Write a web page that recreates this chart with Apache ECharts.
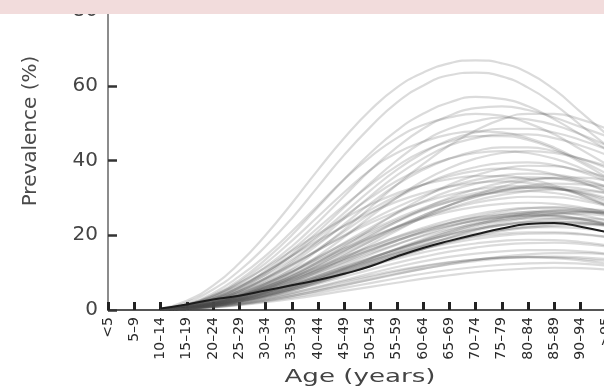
<!DOCTYPE html>
<html>
<head>
<meta charset="utf-8">
<script src="https://cdn.jsdelivr.net/npm/echarts@6/dist/echarts.min.js"></script>
<style>
  html, body { margin: 0; padding: 0; background: #ffffff; }
  #chart { width: 604px; height: 390px; }
</style>
</head>
<body>
<div id="chart"></div>
<script>
// Age groups on the x axis
const ageGroups = ['<5', '5–9', '10–14', '15–19', '20–24', '25–29', '30–34', '35–39',
  '40–44', '45–49', '50–54', '55–59', '60–64', '65–69', '70–74', '75–79',
  '80–84', '85–89', '90–94', '>95'];

// Prevalence (%) by age group, one row per country; values start at the 10–14 group
const upperGroup = [
  [0.3, 2.5, 6.5, 12.5, 20, 28.5, 37.5, 46, 53.5, 59.5, 63.5, 66, 66.8, 66, 63.5, 59, 53, 47],
  [0.2, 2, 5.5, 10.5, 17, 24.5, 33, 41.5, 49, 55.5, 60, 62.8, 63.5, 62.5, 59.5, 55, 49.5, 44],
  [0.2, 1.5, 4, 8, 13.5, 20, 27.5, 35, 42, 48, 52.5, 55.5, 57, 56.5, 54.5, 51, 47, 43],
  [0.1, 1.2, 3.5, 7, 11.5, 17, 23.5, 30.5, 37.5, 43.5, 48.5, 52, 54, 54.5, 53.5, 51.5, 49, 46.5],
  [0.2, 1.5, 4.5, 9, 14.5, 21, 28, 35, 41, 46, 49.5, 51.5, 52.5, 52, 50, 47, 43, 39],
  [0.1, 1, 3, 6, 10, 15, 21, 27.5, 34, 40, 45, 48.5, 50.5, 51.5, 51, 49.5, 47, 44],
  [0.1, 1, 2.8, 5.5, 9.5, 14.5, 20, 26, 32, 37.5, 42, 45.5, 47.5, 48.5, 48.5, 47.5, 45.5, 43],
  [0.2, 1.3, 3.8, 7.5, 12.5, 18.5, 25, 31.5, 37.5, 42, 45, 47, 47.8, 47.5, 46, 43.5, 40, 36.5],
  [0.1, 0.8, 2.5, 5, 8.5, 13, 18.5, 24.5, 30.5, 36, 40.5, 44, 46, 47, 47, 46, 44, 41.5],
  [0.1, 1, 3, 6, 10.5, 16, 22, 28, 33.5, 38.5, 42.5, 45, 46.5, 46.5, 45.5, 43, 39.5, 35.5],
  [0.1, 0.7, 2, 4, 7, 11, 16, 21.5, 27.5, 33.5, 39, 44, 48, 51, 52.5, 52.5, 51, 48.5]
];

const middleGroup = [
  [0.1, 0.9, 2.5, 5, 8.5, 12.5, 17.5, 23, 28.5, 33.5, 37.5, 40.5, 42.5, 43.5, 43.5, 42.5, 40.5, 38],
  [0.2, 1.2, 3.2, 6.2, 10, 14.5, 19.5, 25, 30, 34.5, 38, 40.5, 42, 42.5, 42, 40.5, 38, 35],
  [0.1, 0.6, 1.8, 3.8, 6.5, 10, 14.5, 19.5, 25, 30, 34.5, 38, 40.5, 42, 42.5, 42, 40.5, 38.5],
  [0.1, 0.8, 2.3, 4.6, 7.8, 11.8, 16.3, 21, 25.8, 30, 33.5, 36.3, 38.2, 39.3, 39.5, 38.8, 37, 34.5],
  [0.2, 1.1, 3, 5.8, 9.3, 13.5, 18, 22.5, 26.8, 30.5, 33.5, 35.8, 37.2, 37.8, 37.5, 36.3, 34.3, 31.5],
  [0.1, 0.6, 1.7, 3.5, 6, 9, 12.8, 17, 21.5, 26, 30, 33.5, 36, 37.8, 38.6, 38.5, 37.3, 35.5],
  [0.1, 0.9, 2.6, 5, 8.2, 12, 16, 20, 24, 27.5, 30.5, 33, 34.8, 36, 36.5, 36.2, 35, 33],
  [0.1, 0.7, 2, 4, 6.8, 10.2, 14, 18, 22, 25.8, 29, 31.8, 33.8, 35, 35.5, 35.2, 34, 32],
  [0.1, 0.5, 1.5, 3.2, 5.5, 8.5, 12, 15.8, 19.8, 23.6, 27, 30, 32.3, 34, 35, 35.2, 34.5, 33],
  [0.2, 1, 2.8, 5.3, 8.5, 12.2, 16, 19.8, 23.3, 26.3, 28.8, 30.8, 32.2, 33, 33.2, 32.6, 31.2, 29],
  [0.1, 0.6, 1.8, 3.7, 6.2, 9.3, 12.8, 16.5, 20.2, 23.6, 26.6, 29, 30.8, 32, 32.6, 32.5, 31.6, 30],
  [0.1, 0.8, 2.2, 4.3, 7, 10.2, 13.7, 17.3, 20.8, 24, 26.8, 29, 30.6, 31.5, 31.8, 31.3, 30, 28],
  [0.1, 0.5, 1.4, 2.9, 5, 7.7, 11, 14.6, 18.4, 22, 25.3, 28, 30.2, 31.8, 32.7, 33, 32.5, 31.3],
  [0.1, 0.7, 2, 3.9, 6.4, 9.4, 12.7, 16, 19.2, 22.2, 24.8, 27, 28.7, 29.8, 30.3, 30.2, 29.3, 27.8],
  [0.2, 1.3, 3.5, 6.5, 10.2, 14.4, 18.6, 22.5, 26, 29, 31.3, 33, 34, 34.4, 34, 32.8, 30.8, 28.2],
  [0.1, 0.6, 1.7, 3.4, 5.7, 8.5, 11.7, 15, 18.4, 21.6, 24.6, 27.2, 29.3, 30.8, 31.8, 32.2, 32, 31.2],
  [0.1, 0.9, 2.4, 4.6, 7.4, 10.7, 14.2, 17.8, 21.3, 24.5, 27.3, 29.6, 31.3, 32.4, 32.8, 32.5, 31.4, 29.6],
  [0.1, 0.4, 1.2, 2.6, 4.6, 7.2, 10.3, 13.8, 17.5, 21.2, 24.8, 28, 30.8, 33, 34.6, 35.4, 35.4, 34.6],
  [0.1, 0.7, 2, 3.8, 6.2, 9, 12.2, 15.6, 19, 22.3, 25.3, 28, 30.3, 32, 33.2, 33.8, 33.6, 32.8],
  [0.2, 1.4, 3.8, 7.2, 11.3, 15.8, 20.3, 24.5, 28.2, 31.2, 33.5, 35, 35.8, 35.8, 35, 33.3, 30.8, 27.8]
];

const denseGroup = [
  [0.1, 0.6, 1.6, 3.1, 5, 7.3, 10, 12.8, 15.7, 18.5, 21, 23.2, 25, 26.3, 27.2, 27.5, 27.2, 26.2],
  [0.1, 0.5, 1.4, 2.8, 4.6, 6.8, 9.3, 12, 14.8, 17.5, 20, 22.2, 24, 25.4, 26.3, 26.7, 26.5, 25.7],
  [0.1, 0.7, 1.9, 3.6, 5.7, 8.2, 10.9, 13.7, 16.4, 19, 21.3, 23.2, 24.7, 25.7, 26.2, 26.1, 25.4, 24],
  [0.1, 0.5, 1.3, 2.5, 4.1, 6.1, 8.4, 11, 13.7, 16.4, 19, 21.3, 23.3, 24.8, 25.9, 26.4, 26.4, 25.8],
  [0.1, 0.6, 1.7, 3.2, 5.2, 7.5, 10, 12.6, 15.2, 17.6, 19.8, 21.6, 23, 24, 24.5, 24.5, 23.9, 22.8],
  [0.1, 0.4, 1.1, 2.2, 3.7, 5.6, 7.8, 10.3, 12.9, 15.5, 18, 20.3, 22.3, 23.9, 25, 25.6, 25.7, 25.2],
  [0.1, 0.5, 1.5, 2.9, 4.7, 6.8, 9.1, 11.5, 13.9, 16.2, 18.3, 20.1, 21.6, 22.7, 23.4, 23.6, 23.3, 22.5],
  [0.1, 0.6, 1.7, 3.3, 5.4, 7.9, 10.6, 13.4, 16.1, 18.6, 20.8, 22.6, 24, 24.9, 25.3, 25.1, 24.3, 22.9],
  [0.1, 0.4, 1.2, 2.4, 4, 6, 8.3, 10.8, 13.4, 16, 18.5, 20.8, 22.8, 24.5, 25.8, 26.6, 26.9, 26.7],
  [0.1, 0.5, 1.4, 2.7, 4.4, 6.4, 8.6, 10.9, 13.2, 15.4, 17.4, 19.1, 20.5, 21.5, 22.1, 22.2, 21.8, 20.9],
  [0.1, 0.7, 2, 3.8, 6.1, 8.7, 11.5, 14.3, 17, 19.5, 21.6, 23.3, 24.6, 25.4, 25.7, 25.4, 24.5, 23],
  [0.1, 0.4, 1.2, 2.4, 3.9, 5.8, 7.9, 10.2, 12.6, 15, 17.3, 19.4, 21.2, 22.7, 23.8, 24.4, 24.5, 24.1],
  [0.1, 0.6, 1.6, 3, 4.8, 6.9, 9.2, 11.6, 14, 16.3, 18.4, 20.2, 21.7, 22.8, 23.5, 23.7, 23.4, 22.6],
  [0.1, 0.3, 1, 2, 3.4, 5.2, 7.3, 9.6, 12.1, 14.6, 17.1, 19.4, 21.5, 23.3, 24.7, 25.7, 26.2, 26.2],
  [0.1, 0.5, 1.5, 2.9, 4.6, 6.6, 8.8, 11, 13.1, 15.1, 16.9, 18.4, 19.6, 20.4, 20.8, 20.8, 20.4, 19.6],
  [0.1, 0.7, 1.9, 3.6, 5.8, 8.4, 11.2, 14.1, 16.9, 19.6, 22, 24, 25.6, 26.7, 27.3, 27.3, 26.7, 25.4],
  [0.1, 0.4, 1.1, 2.2, 3.6, 5.3, 7.3, 9.5, 11.8, 14.1, 16.3, 18.3, 20, 21.4, 22.4, 23, 23.2, 22.9],
  [0.1, 0.5, 1.4, 2.7, 4.3, 6.2, 8.3, 10.4, 12.5, 14.5, 16.3, 17.8, 19, 19.9, 20.4, 20.5, 20.2, 19.5],
  [0.1, 0.6, 1.8, 3.4, 5.5, 7.9, 10.6, 13.3, 16, 18.5, 20.7, 22.5, 23.9, 24.8, 25.2, 25.1, 24.4, 23.2],
  [0.1, 0.4, 1.2, 2.3, 3.8, 5.6, 7.6, 9.8, 12, 14.2, 16.3, 18.2, 19.8, 21.1, 22, 22.6, 22.8, 22.6],
  [0.2, 0.9, 2.4, 4.5, 7.1, 10.1, 13.3, 16.5, 19.5, 22.2, 24.5, 26.3, 27.6, 28.4, 28.7, 28.4, 27.5, 26],
  [0.1, 0.5, 1.4, 2.7, 4.4, 6.4, 8.7, 11.2, 13.8, 16.3, 18.7, 20.9, 22.8, 24.3, 25.4, 26, 26.2, 25.9]
];

const lowGroup = [
  [0.1, 0.3, 0.9, 1.8, 3, 4.5, 6.2, 8, 9.8, 11.5, 13, 14.2, 15.1, 15.7, 16, 16, 15.7, 15.1],
  [0.1, 0.4, 1, 2, 3.2, 4.6, 6.1, 7.7, 9.2, 10.6, 11.8, 12.8, 13.5, 14, 14.2, 14.1, 13.7, 13.1],
  [0.1, 0.3, 0.8, 1.6, 2.6, 3.8, 5.2, 6.7, 8.2, 9.7, 11, 12.2, 13.1, 13.8, 14.2, 14.3, 14.1, 13.6],
  [0.1, 0.3, 0.7, 1.4, 2.3, 3.4, 4.6, 5.9, 7.2, 8.5, 9.7, 10.7, 11.5, 12.1, 12.5, 12.6, 12.4, 11.9],
  [0.1, 0.4, 1.1, 2.2, 3.6, 5.2, 7, 8.9, 10.8, 12.6, 14.2, 15.6, 16.7, 17.5, 17.9, 18, 17.7, 17],
  [0.1, 0.3, 0.9, 1.7, 2.8, 4.1, 5.6, 7.2, 8.8, 10.3, 11.6, 12.7, 13.5, 14, 14.1, 13.9, 13.3, 12.4],
  [0.1, 0.4, 1.2, 2.4, 3.9, 5.7, 7.7, 9.8, 11.8, 13.7, 15.4, 16.8, 17.8, 18.5, 18.8, 18.7, 18.2, 17.3],
  [0.1, 0.3, 0.8, 1.5, 2.5, 3.7, 5.1, 6.6, 8.1, 9.6, 11, 12.3, 13.4, 14.3, 14.9, 15.2, 15.2, 14.9],
  [0.1, 0.3, 0.7, 1.3, 2.1, 3, 4, 5.1, 6.2, 7.3, 8.4, 9.3, 10.1, 10.7, 11.1, 11.3, 11.2, 10.8]
];

// Global average curve
const meanLine = [0.4, 1.5, 2.8, 3.8, 5.2, 6.6, 8.0, 9.7, 11.7, 14.3, 16.6, 18.5, 20.2, 21.8, 23.0, 23.3, 22.3, 20.8];

const yTickValues = [0, 20, 40, 60, 80];

// Rows begin at the third age group; the two youngest groups have no value
const pad = (row) => [null, null].concat(row);

const countryRows = [].concat(upperGroup, middleGroup, denseGroup, lowGroup);

const series = countryRows.map((row, i) => ({
  name: 'country' + i,
  type: 'line',
  data: pad(row),
  smooth: true,
  symbol: 'none',
  silent: true,
  z: 2,
  lineStyle: { color: '#4a4a4a', width: 2.2, opacity: 0.2 }
}));

series.push({
  name: 'mean',
  type: 'line',
  data: pad(meanLine),
  smooth: true,
  symbol: 'none',
  silent: true,
  z: 5,
  lineStyle: { color: '#1c1c1c', width: 2, opacity: 1 }
});

const chart = echarts.init(document.getElementById('chart'), null, { renderer: 'canvas' });

chart.setOption({
  animation: false,
  backgroundColor: '#ffffff',
  grid: {
    left: 108, top: 11, right: -2.75, bottom: 80,
    containLabel: false,
    outerBoundsMode: 'none'
  },
  xAxis: {
    type: 'category',
    data: ageGroups,
    boundaryGap: false,
    axisLine: { show: true, lineStyle: { color: '#555555', width: 2 } },
    axisTick: {
      show: true, inside: true, length: 8, interval: 0,
      lineStyle: { color: '#222222', width: 3 }
    },
    axisLabel: {
      interval: 0, rotate: 90, margin: 7,
      fontFamily: 'DejaVu Sans', fontSize: 14, color: '#2a2a2a'
    },
    splitLine: { show: false }
  },
  yAxis: {
    type: 'value',
    min: yTickValues[0],
    max: yTickValues[yTickValues.length - 1],
    interval: 20,
    axisLine: { show: true, lineStyle: { color: '#8c8c8c', width: 2 } },
    axisTick: { show: true, inside: true, length: 9, lineStyle: { color: '#333333', width: 2.5 } },
    axisLabel: {
      margin: 10,
      fontFamily: 'DejaVu Sans', fontSize: 20, color: '#444444'
    },
    splitLine: { show: false }
  },
  graphic: [
    {
      type: 'text',
      x: 31, y: 131,
      rotation: Math.PI / 2,
      style: {
        text: 'Prevalence (%)',
        font: '20px "DejaVu Sans"',
        fill: '#4a4a4a',
        align: 'center',
        verticalAlign: 'middle'
      },
      z: 10
    },
    {
      type: 'text',
      x: 360, y: 377,
      scaleX: 1.45,
      style: {
        text: 'Age (years)',
        font: '18px "DejaVu Sans"',
        fill: '#444444',
        align: 'center',
        verticalAlign: 'middle'
      },
      z: 10
    },
    {
      type: 'rect',
      shape: { x: 0, y: 0, width: 604, height: 14 },
      style: { fill: '#f2dcdc' },
      z: 100
    }
  ],
  series: series
});
</script>
</body>
</html>
